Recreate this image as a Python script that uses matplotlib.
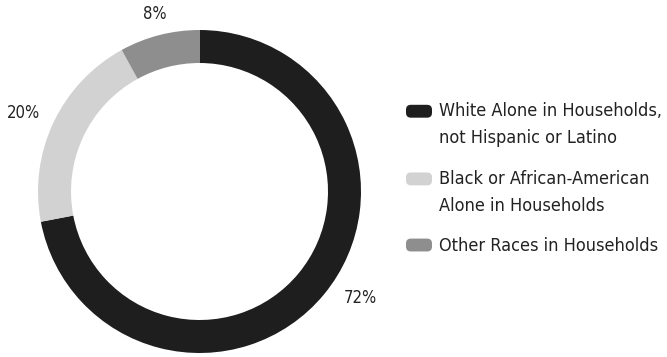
import matplotlib.pyplot as plt
from matplotlib.patches import Patch, FancyBboxPatch
from matplotlib.legend_handler import HandlerPatch

shares = [72, 20, 8]
pct_labels = ['72%', '20%', '8%']
groups = ['White Alone in Households,\nnot Hispanic or Latino',
          'Black or African-American\nAlone in Households',
          'Other Races in Households']
colors = ['#1e1e1e', '#d2d2d2', '#8e8e8e']

plt.rcParams['font.family'] = ['DejaVu Sans']
plt.rcParams['font.stretch'] = 'condensed'

fig = plt.figure(figsize=(6.67, 3.57), dpi=100)
ax = fig.add_axes([0, 0, 1, 1])

# pixel-like coordinates, y going up
cx, cy, r = 199.5, 165.5, 161.5
wedges, _ = ax.pie(shares, colors=colors, startangle=90, counterclock=False,
                   center=(cx, cy), radius=r,
                   wedgeprops=dict(width=33, linewidth=0))
ax.set_xlim(0, 667)
ax.set_ylim(0, 357)
ax.set_aspect('equal')
ax.axis('off')

ax.text(360, 59, pct_labels[0], fontsize=12, ha='center', va='center', color='#222')
ax.text(23, 244, pct_labels[1], fontsize=12, ha='center', va='center', color='#222')
ax.text(155, 343, pct_labels[2], fontsize=12, ha='center', va='center', color='#222')

line_gap = 28 * 72 / 100  # points between two text lines


def top_swatch(nlines):
    # rounded swatch lined up with the first text line
    shift = (nlines - 1) / 2 * line_gap

    def make(legend, orig_handle, xdescent, ydescent, width, height, fontsize):
        return FancyBboxPatch((-xdescent, -ydescent + shift), width, height,
                              boxstyle='round,pad=0,rounding_size=3.5')
    return HandlerPatch(patch_func=make)


handles = [Patch(facecolor=c, edgecolor='none', linewidth=0) for c in colors]
hmap = {h: top_swatch(g.count('\n') + 1) for h, g in zip(handles, groups)}
leg = fig.legend(handles, groups, handler_map=hmap, loc='upper left',
                 bbox_to_anchor=(406 / 667, 1 - 102 / 357),
                 frameon=False, fontsize=13, handlelength=1.44, handleheight=0.72,
                 handletextpad=0.4, labelspacing=1.25, borderpad=0, borderaxespad=0,
                 labelcolor='#222')
for t in leg.get_texts():
    t.set_linespacing(1.65)

fig.savefig('out.png', dpi=100)
